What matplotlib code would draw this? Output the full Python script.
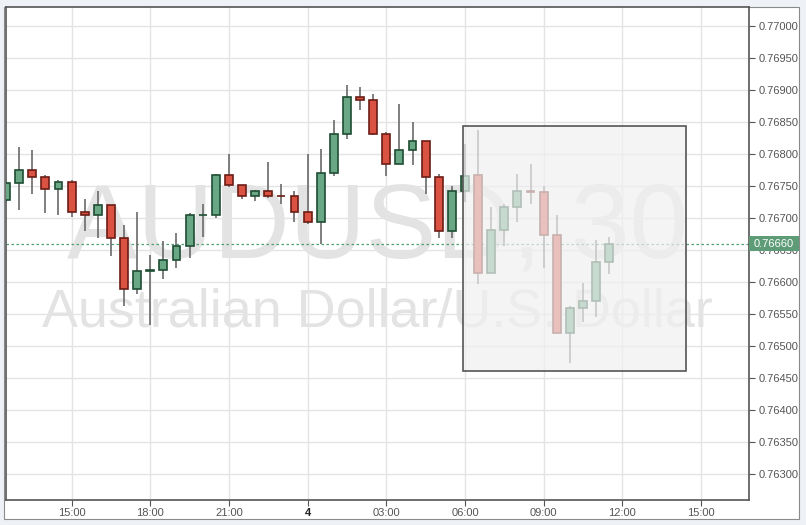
import numpy as np
import matplotlib.pyplot as plt
from matplotlib.patches import Rectangle
from matplotlib.ticker import MultipleLocator, FormatStrFormatter
import matplotlib.transforms as mtransforms

# AUDUSD 30 min candles, time in hours from 00:00 of day 4
times = np.arange(-11.5, 12.0, 0.5)
opens = [0.76728, 0.76754, 0.76775, 0.76764, 0.76746, 0.76756, 0.76709, 0.76704,
         0.76720, 0.76668, 0.76589, 0.76617, 0.76618, 0.76635, 0.76657, 0.76704,
         0.76705, 0.76767, 0.76751, 0.76734, 0.76742, 0.76735, 0.76734, 0.76710,
         0.76693, 0.76770, 0.76832, 0.76889, 0.76884, 0.76832, 0.76784, 0.76806,
         0.76820, 0.76764, 0.76679, 0.76742, 0.76767, 0.76614, 0.76682, 0.76717,
         0.76742, 0.76740, 0.76673, 0.76520, 0.76559, 0.76571, 0.76631]
highs = [0.76756, 0.76811, 0.76806, 0.76767, 0.76760, 0.76760, 0.76730, 0.76742,
         0.76720, 0.76689, 0.76710, 0.76642, 0.76664, 0.76677, 0.76708, 0.76722,
         0.76768, 0.76800, 0.76751, 0.76744, 0.76788, 0.76753, 0.76742, 0.76800,
         0.76808, 0.76853, 0.76908, 0.76905, 0.76894, 0.76835, 0.76878, 0.76850,
         0.76820, 0.76768, 0.76750, 0.76816, 0.76838, 0.76717, 0.76722, 0.76769,
         0.76784, 0.76750, 0.76704, 0.76563, 0.76598, 0.76666, 0.76670]
lows = [0.76725, 0.76713, 0.76738, 0.76708, 0.76704, 0.76702, 0.76680, 0.76668,
        0.76641, 0.76563, 0.76582, 0.76533, 0.76605, 0.76622, 0.76638, 0.76671,
        0.76700, 0.76749, 0.76729, 0.76726, 0.76732, 0.76722, 0.76694, 0.76690,
        0.76659, 0.76765, 0.76823, 0.76869, 0.76830, 0.76765, 0.76784, 0.76783,
        0.76738, 0.76669, 0.76668, 0.76725, 0.76597, 0.76614, 0.76657, 0.76694,
        0.76722, 0.76622, 0.76520, 0.76473, 0.76538, 0.76546, 0.76613]
closes = [0.76754, 0.76775, 0.76764, 0.76746, 0.76756, 0.76709, 0.76704, 0.76720,
          0.76668, 0.76589, 0.76617, 0.76618, 0.76635, 0.76657, 0.76704, 0.76705,
          0.76767, 0.76751, 0.76734, 0.76742, 0.76735, 0.76734, 0.76710, 0.76693,
          0.76770, 0.76832, 0.76889, 0.76884, 0.76832, 0.76784, 0.76806, 0.76820,
          0.76764, 0.76679, 0.76742, 0.76766, 0.76614, 0.76682, 0.76717, 0.76742,
          0.76741, 0.76673, 0.76520, 0.76559, 0.76571, 0.76631, 0.76660]

last_price = 0.76660
# highlighted zone (hours, price)
zone_t = [5.94, 14.43]
zone_p = [0.76461, 0.76844]

tick_hours = [-9, -6, -3, 0, 3, 6, 9, 12, 15]
tick_labels = ['15:00', '18:00', '21:00', '4', '03:00', '06:00', '09:00', '12:00', '15:00']

verde, verde_borde = '#6aa784', '#1e4d33'
rojo, rojo_borde = '#d95242', '#6b1d15'

fig = plt.figure(figsize=(8.06, 5.25), dpi=100, facecolor='#eef2f6')
# panel blanco de fondo
fig.patches.append(Rectangle((4 / 806, 6 / 525), 795 / 806, 512 / 525, transform=fig.transFigure,
                             facecolor='white', edgecolor='#8a8a8a', lw=0.8, zorder=-5))
ax = fig.add_axes([6 / 806, 25 / 525, 743 / 806, 493 / 525])
ax.set_facecolor('white')

ax.set_xlim(-11.5, 16.83)
ax.set_ylim(0.762594, 0.770297)

ax.grid(color='#e4e4e4', lw=1, zorder=0)
ax.set_axisbelow(True)

# marca de agua
ax.text(0.5, 0.4929, 'AUDUSD, 30', transform=ax.transAxes, ha='center', va='baseline',
        fontsize=76, family='Liberation Sans', color='#e3e3e3', zorder=0.5)
ax.text(0.5, 0.3515, 'Australian Dollar/U.S. Dollar', transform=ax.transAxes, ha='center',
        va='baseline', fontsize=38.8, family='Liberation Sans', color='#e3e3e3', zorder=0.5)

o = np.array(opens)
c = np.array(closes)
sube = c >= o
colores = np.where(sube, verde, rojo)
bordes = np.where(sube, verde_borde, rojo_borde)
alto = np.where(np.abs(c - o) < 1e-6, 1e-6, c - o)

ax.vlines(times, lows, highs, color='#6a6a6a', lw=1.2, zorder=2)
ax.bar(times, alto, bottom=o, width=0.3, color=colores, edgecolor=bordes, lw=1.2, zorder=3)

# precio actual
ax.axhline(last_price, color='#4f9f72', lw=0.9, ls=(0, (2, 2)), zorder=1.5)

# zona sombreada
ax.add_patch(Rectangle((zone_t[0], zone_p[0]), zone_t[1] - zone_t[0], zone_p[1] - zone_p[0],
                       facecolor='#f0f0f0', alpha=0.7, edgecolor='none', zorder=4))
ax.add_patch(Rectangle((zone_t[0], zone_p[0]), zone_t[1] - zone_t[0], zone_p[1] - zone_p[0],
                       facecolor='none', edgecolor='#555555', lw=1.2, zorder=4.1))

for s in ax.spines.values():
    s.set_color('#555555')
    s.set_linewidth(1.2)

ax.yaxis.tick_right()
ax.yaxis.set_major_locator(MultipleLocator(0.0005))
ax.yaxis.set_major_formatter(FormatStrFormatter('%.5f'))
ax.tick_params(axis='y', length=4, width=0.8, color='#555555', labelsize=8,
               labelcolor='#555555', pad=3)
ax.set_xticks(tick_hours)
ax.set_xticklabels(tick_labels)
ax.tick_params(axis='x', length=4, width=0.8, color='#555555', labelsize=8,
               labelcolor='#555555', pad=2)
for lab in ax.get_xticklabels() + ax.get_yticklabels():
    lab.set_family(['Liberation Sans Narrow', 'Liberation Sans'])
ax.get_xticklabels()[3].set_color('#222222')
ax.get_xticklabels()[3].set_fontweight('bold')

# etiqueta del ultimo precio
trans = mtransforms.blended_transform_factory(ax.transAxes, ax.transData)
media = 0.000117
ax.add_patch(Rectangle((1.0, last_price - media), 0.0673, 2 * media, transform=trans,
                       facecolor='#5e9c78', edgecolor='none', zorder=10, clip_on=False))
ax.text(1.0337, last_price, '%.5f' % last_price, transform=trans, ha='center', va='center',
        fontsize=8, family='Liberation Sans', color='white', zorder=11, clip_on=False)

plt.savefig('out.png', dpi=100, facecolor=fig.get_facecolor())
